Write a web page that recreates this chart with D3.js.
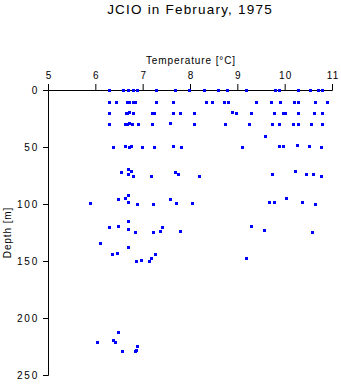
<!DOCTYPE html>
<html>
<head>
<meta charset="utf-8">
<script src="https://cdn.jsdelivr.net/npm/d3@7"></script>
<style>
  body { margin: 0; background: #fff; }
  text { font-family: "Liberation Sans", Arial, sans-serif; }
</style>
</head>
<body>
<div id="chart"></div>
<script>
// temperature (degC) and depth (m) of each bottle sample
const temp = [
    // surface
    6.30, 6.59, 6.70, 6.80, 6.89, 7.30, 7.70, 7.99, 8.30, 8.60, 8.80, 9.20, 9.80, 9.90, 10.30, 10.55, 10.71, 10.80,
    // ~10 m
    6.30, 6.44, 6.68, 6.72, 6.81, 6.85, 7.30, 7.65, 8.35, 8.47, 8.72, 8.81, 9.40, 9.72, 9.92, 10.20, 10.30, 10.65, 10.90,
    // ~20 m
    6.30, 6.65, 6.68, 6.72, 6.81, 7.20, 7.26, 7.65, 7.80, 8.09, 8.89, 8.99, 9.30, 9.78, 9.97, 10.02, 10.30, 10.64, 10.80,
    // ~30 m
    6.30, 6.64, 6.69, 6.73, 6.79, 6.91, 7.20, 7.59, 8.09, 8.76, 9.25, 9.74, 9.90, 10.18, 10.30, 10.56, 10.80,
    // ~50 m
    6.39, 6.63, 6.72, 6.77, 6.99, 7.25, 7.65, 7.82, 9.11, 9.59, 9.89, 9.97, 10.28, 10.52, 10.77,
    // ~75 m
    6.55, 6.70, 6.77, 6.70, 6.81, 7.19, 7.69, 7.75, 8.20, 9.74, 10.23, 10.46, 10.61, 10.77,
    // ~100 m
    6.70, 6.49, 6.63, 6.70, 5.89, 6.89, 7.22, 7.59, 7.72, 8.05, 9.68, 9.78, 10.03, 10.37, 10.65,
    // ~125 m
    6.70, 6.49, 6.30, 6.70, 6.84, 7.22, 7.41, 7.37, 7.80, 9.30, 9.58, 10.58,
    // ~150 m
    6.10, 6.70, 6.36, 6.47, 6.87, 6.97, 7.14, 7.19, 7.28, 9.19,
    // deep
    6.49, 6.04, 6.38, 6.42, 6.57, 6.84, 6.87, 6.89
];
const depth = [
    0, 0, 0, 0, 0, 0, 0, 0, 0, 0, 0, 0, 0, 0, 0, 0, 0, 0,
    11, 11, 11, 11, 11, 11, 11, 11, 11, 11, 11, 11, 11, 11, 11, 11, 11, 11, 11,
    20.5, 20.5, 20.5, 19.5, 20.5, 20.5, 20.5, 20.5, 20.5, 20.5, 19.5, 20.5, 20.5, 20.5, 20.5, 20.5, 20.5, 20.5, 20.5,
    30.3, 30.3, 30.3, 29.5, 30.3, 30.3, 30.3, 29.5, 30.3, 30.3, 30.3, 30.3, 30.3, 30.3, 30.3, 30.3, 30.3,
    50.3, 49.4, 50.3, 49.7, 50.3, 50.3, 49.4, 50.3, 50.3, 40.6, 49.4, 49.4, 48.5, 49.4, 50.3,
    72.2, 69.6, 71.3, 73.9, 75.7, 75.7, 72.2, 74.3, 75.7, 74.3, 71.3, 74.3, 74.3, 75.7,
    92.4, 96.2, 95.4, 98.5, 99.4, 100.3, 100.3, 96.2, 99.4, 99.4, 98.5, 98.5, 95.4, 98.5, 100.3,
    115.2, 119.3, 120.4, 122.2, 125.4, 125.4, 120.4, 124.3, 124.3, 119.3, 123.1, 125.4,
    134.5, 138.0, 144.1, 143.2, 150.3, 149.4, 150.3, 147.6, 144.1, 147.6,
    212.5, 221.3, 219.3, 221.3, 229.2, 229.2, 228.1, 225.2
];
const tempTicks = [5, 6, 7, 8, 9, 10, 11];
const depthTicks = [0, 50, 100, 150, 200, 250];

const width = 341, height = 384;
const margin = {top: 90, right: 9, bottom: 9, left: 48};

const svg = d3.select("#chart")
    .append("svg")
    .attr("width", width)
    .attr("height", height);

const x = d3.scaleLinear()
    .domain([5, 11])
    .range([margin.left, width - margin.right]);

const y = d3.scaleLinear()
    .domain([0, 250])
    .range([margin.top, height - margin.bottom]);

// title
svg.append("text")
    .attr("x", 190)
    .attr("y", 14)
    .attr("text-anchor", "middle")
    .attr("font-size", "13.5px")
    .attr("letter-spacing", "1.2px")
    .text("JCIO in February, 1975");

// axes
function xAxis(g) {
    g.attr("transform", `translate(0,${margin.top})`)
        .call(d3.axisTop(x).tickValues(tempTicks).tickFormat(d3.format("d"))
            .tickSizeOuter(0).tickSize(6).tickPadding(5))
        .attr("font-size", "10px")
        .attr("font-family", null);
    g.selectAll("text").attr("letter-spacing", "1.2px").attr("dx", "0.6px");
    g.selectAll("line, path").attr("stroke", "#000");
}
function yAxis(g) {
    g.attr("transform", `translate(${margin.left},0)`)
        .call(d3.axisLeft(y).tickValues(depthTicks).tickFormat(d3.format("d"))
            .tickSizeOuter(0).tickSize(5).tickPadding(4))
        .attr("font-size", "10px")
        .attr("font-family", null);
    g.selectAll("text").attr("letter-spacing", "1.8px");
    g.selectAll("line, path").attr("stroke", "#000");
}
svg.append("g").call(xAxis);
svg.append("g").call(yAxis);

// axis titles
svg.append("text")
    .attr("x", 191)
    .attr("y", 64)
    .attr("text-anchor", "middle")
    .attr("font-size", "10px")
    .attr("letter-spacing", "0.9px")
    .text("Temperature [°C]");

svg.append("text")
    .attr("transform", `translate(11,${(margin.top + height - margin.bottom) / 2}) rotate(-90)`)
    .attr("text-anchor", "middle")
    .attr("font-size", "10px")
    .attr("letter-spacing", "0.9px")
    .text("Depth [m]");

// samples
svg.append("g")
    .attr("fill", "#0000ff")
    .attr("shape-rendering", "crispEdges")
    .selectAll("rect")
    .data(d3.range(temp.length))
    .join("rect")
    .attr("x", i => Math.round(x(temp[i]) - 1.5))
    .attr("y", i => Math.round(y(depth[i]) - 1.5))
    .attr("width", 3)
    .attr("height", 3);
</script>
</body>
</html>
